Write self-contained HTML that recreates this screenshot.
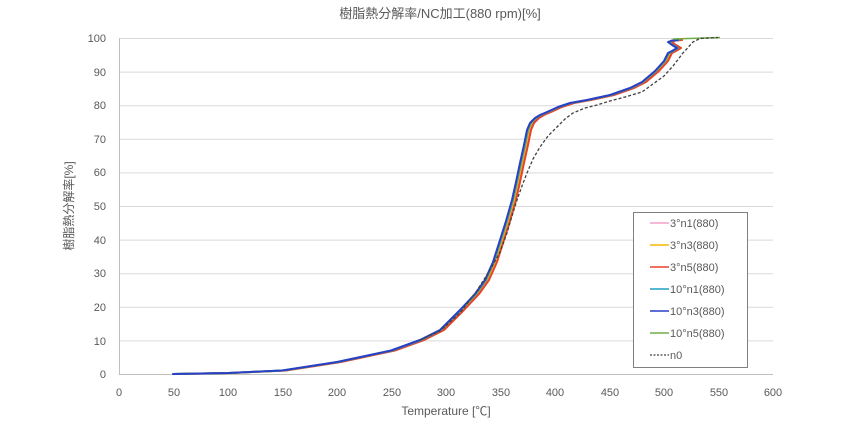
<!DOCTYPE html>
<html><head><meta charset="utf-8"><style>
body{margin:0;background:#fff;}
svg{display:block;font-family:"Liberation Sans","Noto Sans CJK JP",sans-serif;}
</style></head><body>
<svg width="859" height="424" viewBox="0 0 859 424">
<text x="440" y="18" font-size="13" fill="#595959" text-anchor="middle">樹脂熱分解率/NC加工(880 rpm)[%]</text>
<g stroke="#d9d9d9" stroke-width="1">
<line x1="119" y1="38.5" x2="773" y2="38.5"/>
<line x1="119" y1="72.1" x2="773" y2="72.1"/>
<line x1="119" y1="105.7" x2="773" y2="105.7"/>
<line x1="119" y1="139.3" x2="773" y2="139.3"/>
<line x1="119" y1="172.9" x2="773" y2="172.9"/>
<line x1="119" y1="206.5" x2="773" y2="206.5"/>
<line x1="119" y1="240.1" x2="773" y2="240.1"/>
<line x1="119" y1="273.7" x2="773" y2="273.7"/>
<line x1="119" y1="307.3" x2="773" y2="307.3"/>
<line x1="119" y1="340.9" x2="773" y2="340.9"/>
</g>
<line x1="119" y1="374.5" x2="773" y2="374.5" stroke="#bfbfbf"/>
<line x1="119.5" y1="38" x2="119.5" y2="374" stroke="#bfbfbf"/>
<g font-size="11" fill="#595959" text-anchor="end">
<text x="106" y="42">100</text><text x="106" y="76">90</text><text x="106" y="109">80</text>
<text x="106" y="143">70</text><text x="106" y="176">60</text><text x="106" y="210">50</text>
<text x="106" y="244">40</text><text x="106" y="277">30</text><text x="106" y="311">20</text>
<text x="106" y="345">10</text><text x="106" y="378">0</text>
</g>
<g font-size="11" fill="#595959" text-anchor="middle">
<text x="119" y="396">0</text><text x="174" y="396">50</text><text x="228" y="396">100</text>
<text x="283" y="396">150</text><text x="337" y="396">200</text><text x="392" y="396">250</text>
<text x="446" y="396">300</text><text x="501" y="396">350</text><text x="555" y="396">400</text>
<text x="610" y="396">450</text><text x="664" y="396">500</text><text x="719" y="396">550</text>
<text x="773" y="396">600</text>
</g>
<text x="446" y="415" font-size="12" fill="#595959" text-anchor="middle">Temperature [℃]</text>
<text transform="translate(73,206) rotate(-90)" font-size="12" fill="#595959" text-anchor="middle">樹脂熱分解率[%]</text>
<defs>
<polyline id="c" points="173,374 228,373 282,370.5 337,362 391,350.5 420,340 440,330 460,310 475,294 485,280 493,262 500,240 506,221 512,200 516,182 520,163 524,145 527,130 530,123 535,118 540,115 547,112 558,107 570,103 587,100 610,95 630,88 642,82 655,71 664,61 668,53 672,51 677,48 672,45 668,42 672,40.5 678,40"/>
</defs>
<g fill="none" stroke-width="2" stroke-linejoin="round" stroke-linecap="round">
<use href="#c" stroke="#f4a0c8" transform="translate(2,0)"/>
<use href="#c" stroke="#f5b800" transform="translate(3,0)"/>
<use href="#c" stroke="#e8432a" transform="translate(4,0)"/>
<use href="#c" stroke="#1ea0c8" transform="translate(1,0)"/>
<use href="#c" stroke="#70ad47" transform="translate(0.5,0)"/>
<use href="#c" stroke="#2840c8" transform="translate(0,0)"/>
</g>
<path d="M673,39 L720,37.5" stroke="#70ad47" stroke-width="1.5" fill="none"/>
<polyline points="420,340 440,331 460,313 476,292 490,270 500,252 507,233 512,216 517,200 522,186 527,173 533,159 540,147 548,136 557,127 565,119 573,113 585,108 597,105 610,101 625,97 642,92 653,84 664,76 673,66 683,53 693,42 700,38.5 718,37.5" fill="none" stroke="#404040" stroke-width="1.3" stroke-dasharray="3,2" stroke-linejoin="round"/>
<rect x="633.5" y="212.5" width="114" height="155" fill="#fff" stroke="#808080"/>
<g font-size="11" fill="#595959">
<line x1="650" y1="223" x2="669" y2="223" stroke="#f4a0c8" stroke-width="1.5"/><text x="670" y="227">3°n1(880)</text>
<line x1="650" y1="245" x2="669" y2="245" stroke="#f5b800" stroke-width="1.5"/><text x="670" y="249">3°n3(880)</text>
<line x1="650" y1="267" x2="669" y2="267" stroke="#e8432a" stroke-width="1.5"/><text x="670" y="271">3°n5(880)</text>
<line x1="650" y1="289" x2="669" y2="289" stroke="#1ea0c8" stroke-width="1.5"/><text x="670" y="293">10°n1(880)</text>
<line x1="650" y1="311" x2="669" y2="311" stroke="#2840c8" stroke-width="1.5"/><text x="670" y="315">10°n3(880)</text>
<line x1="650" y1="333" x2="669" y2="333" stroke="#70ad47" stroke-width="1.5"/><text x="670" y="337">10°n5(880)</text>
<line x1="650" y1="355" x2="669" y2="355" stroke="#404040" stroke-width="1.3" stroke-dasharray="2,1.5"/><text x="670" y="359">n0</text>
</g>
</svg>
</body></html>
